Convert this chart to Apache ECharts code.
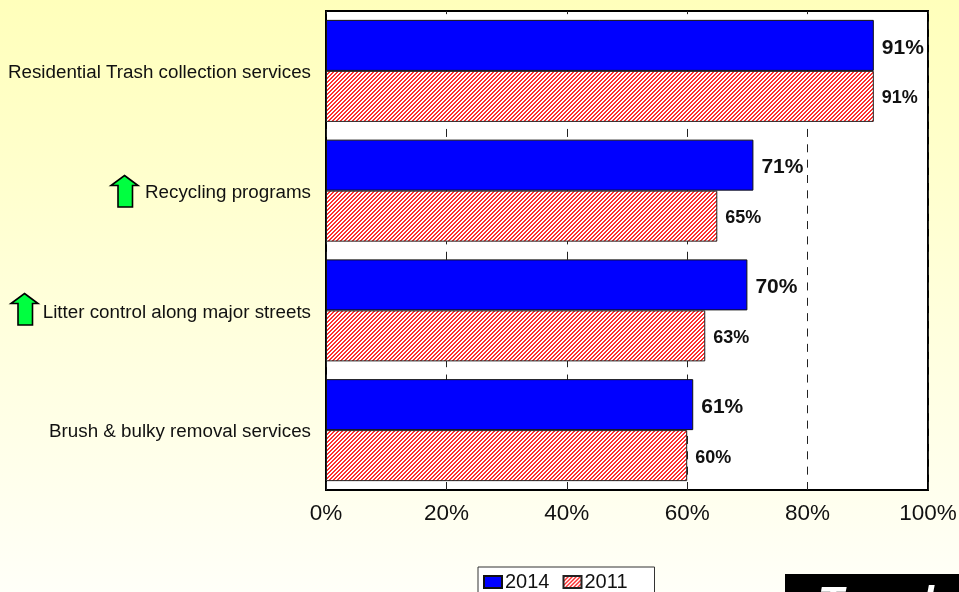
<!DOCTYPE html>
<html><head><meta charset="utf-8">
<style>html,body{margin:0;padding:0;background:#fff}#c{width:959px;height:592px}</style>
<script src="https://cdn.jsdelivr.net/npm/echarts@6/dist/echarts.min.js"></script>
</head><body><div id="c"></div>
<script>
const categories = ['Residential Trash collection services','Recycling programs','Litter control along major streets','Brush & bulky removal services'];
const values2014 = [91,71,70,61];
const values2011 = [91,65,63,60];
const xTicks = [0,20,40,60,80,100];
const font = '"Liberation Sans", Arial, sans-serif';

function hatch(){
  const c=document.createElement('canvas');c.width=4;c.height=4;
  const g=c.getContext('2d');
  g.fillStyle='#fff';g.fillRect(0,0,4,4);
  g.fillStyle='#ff3030';
  for(let x=0;x<4;x++)for(let y=0;y<4;y++){ if((x+y)%4<2) g.fillRect(x,y,1,1); }
  return c;
}
function arrow(dx){
  const p=[[124.5,175.5],[138,185.5],[132.5,185.5],[132.5,207],[118,207],[118,185.5],[111,185.5]];
  return {type:'polygon',z:20,shape:{points:p.map(q=>[q[0]+dx,q[1]+(dx?118:0)])},style:{fill:'#00ff40',stroke:'#000',lineWidth:1.6}};
}
const chart=echarts.init(document.getElementById('c'),null,{renderer:'canvas'});
const pat={image:hatch(),repeat:'repeat'};
chart.setOption({
  animation:false,
  backgroundColor:{type:'linear',x:0,y:0,x2:0,y2:1,colorStops:[{offset:0,color:'#ffffbb'},{offset:1,color:'#fffff8'}]},
  textStyle:{fontFamily:font},
  grid:{left:326,right:31,top:11,bottom:102,show:true,backgroundColor:'#fff',borderColor:'#000',borderWidth:2,containLabel:false,outerBoundsMode:'none'},
  legend:{show:true,left:478,top:567,padding:[5,27,2,5],backgroundColor:'#fff',borderColor:'#333',borderWidth:1,borderRadius:0,
    itemWidth:18,itemHeight:12,itemGap:13,icon:'rect',
    textStyle:{fontSize:20,color:'#111',fontFamily:font,padding:[0,0,0,-2]},data:['2014','2011']},
  xAxis:{type:'value',min:0,max:100,interval:20,
    axisLine:{show:false},axisTick:{show:false},
    splitLine:{show:true,lineStyle:{color:'#222',type:[8,7.35],dashOffset:4.85,width:1}},
    axisLabel:{formatter:v=>xTicks.includes(v)?v+'%':'',fontSize:22.5,color:'#111',margin:12,fontFamily:font}},
  yAxis:{type:'category',inverse:true,data:categories,
    axisLine:{show:false},axisTick:{show:false},
    axisLabel:{margin:15,fontFamily:font,formatter:v=>'{t|'+v+'}',
      rich:{t:{fontSize:18.8,color:'#111',fontFamily:font,padding:[4,0,0,0]}}}},
  series:[
    {name:'2014',type:'bar',data:values2014,barWidth:51,barGap:0,
      itemStyle:{color:'#0000ff',borderColor:'#111',borderWidth:1},
      label:{show:true,position:'right',distance:8,offset:[0,2.5],formatter:'{c}%',fontSize:21,fontWeight:'bold',color:'#111',fontFamily:font}},
    {name:'2011',type:'bar',data:values2011,barWidth:51,
      itemStyle:{color:pat,borderColor:'#222',borderWidth:1},
      label:{show:true,position:'right',distance:8,offset:[0,2],formatter:'{c}%',fontSize:18,fontWeight:'bold',color:'#111',fontFamily:font}}
  ],
  graphic:[
    arrow(0),arrow(-100),
    {type:'rect',z:20,shape:{x:785,y:574,width:174,height:18},style:{fill:'#000'}},
    {type:'text',z:21,left:818,top:583,style:{text:'Trend',fill:'#fff',font:'italic bold 42px '+font}}
  ]
});
</script></body></html>
